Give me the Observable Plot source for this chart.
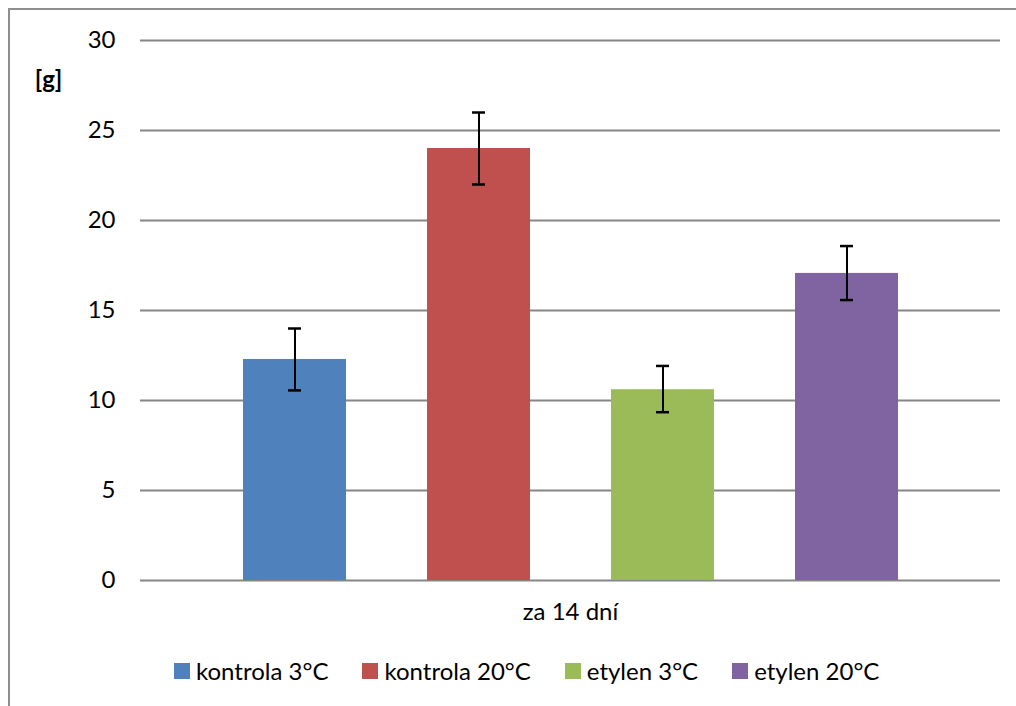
<!DOCTYPE html>
<html><head><meta charset="utf-8">
<script src="https://cdn.jsdelivr.net/npm/d3@7"></script>
<script src="https://cdn.jsdelivr.net/npm/@observablehq/plot@0.6"></script>
<style>
body{margin:0;background:#fff;font-family:Lato,"Open Sans",sans-serif;width:1016px;height:706px;overflow:hidden;position:relative;}
#frame{position:absolute;left:8px;top:8px;width:1100px;height:800px;border-left:2px solid #8e8e8e;border-top:2px solid #8e8e8e;}
#chart{position:absolute;left:0;top:0;}
#legend{position:absolute;top:656px;left:174px;display:flex;align-items:center;font-size:24px;color:#000;white-space:nowrap;}
#legend .item{display:flex;align-items:center;margin-right:34px;}
#legend .sw{width:16px;height:16px;margin-right:6px;}
</style></head>
<body>
<div id="frame"></div>
<div id="chart"></div>
<div id="legend"></div>
<script>
const group = "za 14 dní";
const series = ["kontrola 3°C", "kontrola 20°C", "etylen 3°C", "etylen 20°C"];
const values = [12.28, 24.0, 10.6, 17.06];
const errLow = [10.56, 22.0, 9.35, 15.58];
const errHigh = [14.0, 26.0, 11.92, 18.58];
const colors = ["#4F81BD", "#C0504D", "#9BBB59", "#8064A2"];
const yTicks = [0, 5, 10, 15, 20, 25, 30];

const data = series.map((s, i) => ({group, series: s, value: values[i], lo: errLow[i], hi: errHigh[i]}));

const chart = Plot.plot({
  width: 1016,
  height: 630,
  marginLeft: 140,
  marginRight: 16,
  marginTop: 40,
  marginBottom: 50,
  style: {fontFamily: "Lato, 'Open Sans', sans-serif", fontSize: "24px", color: "#000", background: "transparent"},
  fx: {domain: [group], padding: 0, label: null},
  x: {domain: series, paddingInner: 0.442, paddingOuter: 0.552, axis: null},
  y: {domain: [0, 30], label: null},
  color: {domain: series, range: colors},
  marks: [
    Plot.ruleY(yTicks, {stroke: "#868686", strokeWidth: 2}),
    Plot.barY(data, {fx: "group", x: "series", y: "value", fill: "series"}),
    Plot.ruleX(data, {fx: "group", x: "series", y1: "lo", y2: "hi", stroke: "#000", strokeWidth: 2}),
    Plot.tickY(data, {fx: "group", x: "series", y: "lo", stroke: "#000", strokeWidth: 2.5, insetLeft: 45, insetRight: 45}),
    Plot.tickY(data, {fx: "group", x: "series", y: "hi", stroke: "#000", strokeWidth: 2.5, insetLeft: 45, insetRight: 45}),
    Plot.axisY({ticks: yTicks, tickSize: 0, tickPadding: 25, label: null, fontSize: 24}),
    Plot.axisFx({anchor: "bottom", tickSize: 0, tickPadding: 22, label: null, fontSize: 24}),
    Plot.text(["[g]"], {frameAnchor: "top-left", dx: -92, dy: 30, fontWeight: "bold", fontSize: 24, textAnchor: "middle"})
  ]
});
document.getElementById("chart").appendChild(chart);

const leg = document.getElementById("legend");
series.forEach((s, i) => {
  const it = document.createElement("div");
  it.className = "item";
  const sw = document.createElement("span");
  sw.className = "sw";
  sw.style.background = colors[i];
  const t = document.createElement("span");
  t.textContent = s;
  it.appendChild(sw); it.appendChild(t);
  leg.appendChild(it);
});
</script>
</body></html>
